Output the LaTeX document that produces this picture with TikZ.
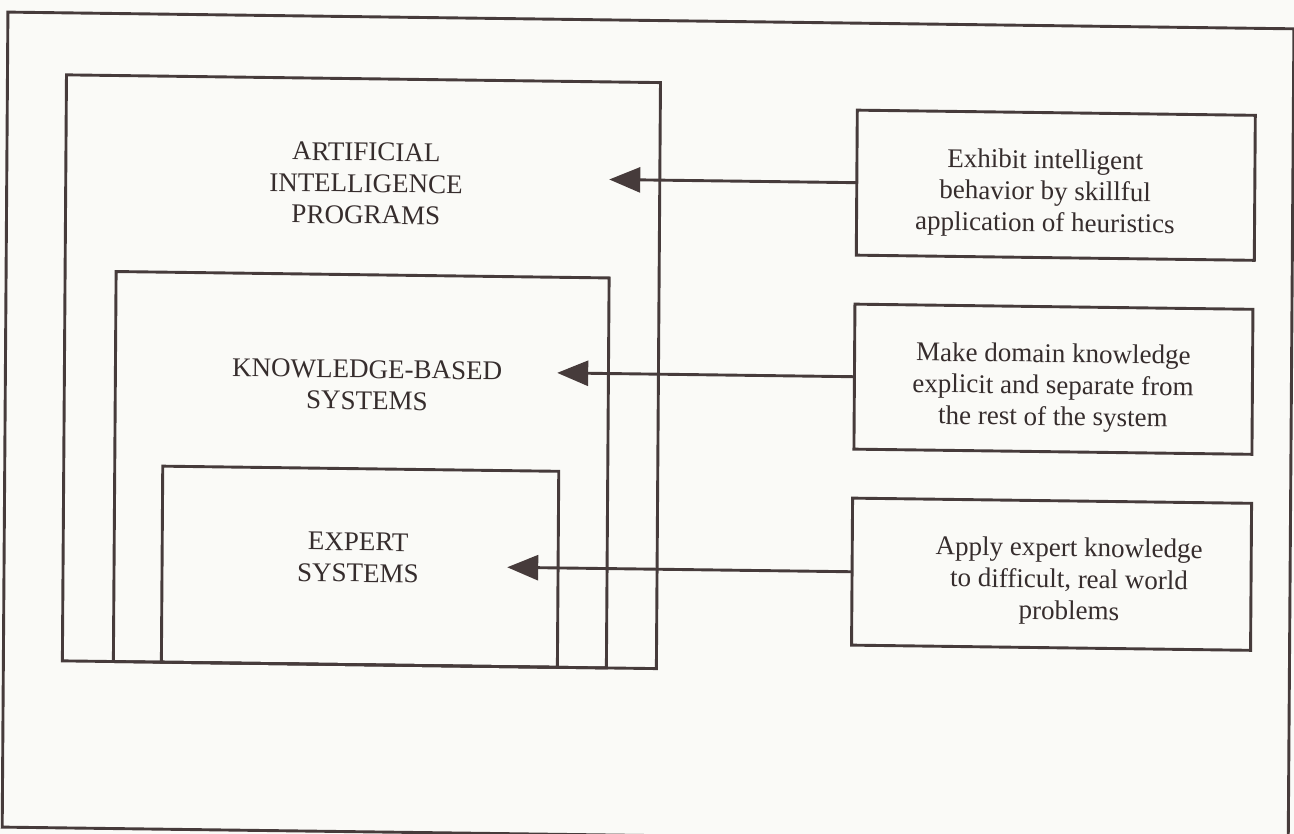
\documentclass[tikz,border=0pt]{standalone}
\usepackage{fontspec}
\setmainfont{Liberation Serif}
\usetikzlibrary{arrows.meta}
\definecolor{paper}{HTML}{FAFAF7}
\definecolor{ink}{HTML}{463B3B}
\definecolor{textink}{HTML}{362D2D}
\begin{document}
\begin{tikzpicture}[x=1pt,y=-1pt,
  frame/.style={draw=ink, line width=2.9pt, rectangle, inner sep=0pt, outer sep=0pt},
  tag/.style={text=textink, align=center, font=\fontsize{27}{31.5}\selectfont, inner sep=0pt},
  pointer/.style={draw=ink, line width=2.9pt, -{Triangle[length=31pt,width=25pt]}}
]
\path[use as bounding box, fill=paper] (0,0) rectangle (1294,834);
\clip (0,0) rectangle (1294,834);
% the whole sheet sits slightly skewed
\begin{scope}[cm={1,-0.013,0.007,1,(0,0)}, transform shape]
  % surrounding frame
  \node[frame, minimum width=1286pt, minimum height=815pt] (page) at (651,419.5) {};

  % nested categories, all sharing the same bottom edge
  \node[frame, minimum width=594pt, minimum height=586pt] (ai) at (364,367) {};
  \node[frame, minimum width=493pt, minimum height=390pt] (kbs) at (364.5,465) {};
  \node[frame, minimum width=396pt, minimum height=196pt] (es) at (364,562) {};

  \node[tag] (ailabel) at (367.3,178.7) {ARTIFICIAL\\INTELLIGENCE\\PROGRAMS};
  \node[tag] (kbslabel) at (369.7,380.2) {KNOWLEDGE-BASED\\SYSTEMS};
  \node[tag] (eslabel) at (361.9,552.9) {EXPERT\\SYSTEMS};

  % characteristics
  \node[frame, minimum width=398pt, minimum height=145pt] (b1) at (1057,171.5) {};
  \node[frame, minimum width=398pt, minimum height=145pt] (b2) at (1056,365.5) {};
  \node[frame, minimum width=399pt, minimum height=147pt] (b3) at (1055.5,560.5) {};

  \node[tag] (t1) at (1046.4,179.9) {Exhibit intelligent\\behavior by skillful\\application of heuristics};
  \node[tag] (t2) at (1055.7,373.8) {Make domain knowledge\\explicit and separate from\\the rest of the system};
  \node[tag] (t3) at (1073,567.6) {Apply expert knowledge\\to difficult, real world\\problems};

  % pointers into the categories
  \coordinate (tip1) at (610.3,171.5);
  \coordinate (tip2) at (559.6,365.5);
  \coordinate (tip3) at (511,560.5);
  \draw[pointer] (b1.west) -- (tip1);
  \draw[pointer] (b2.west) -- (tip2);
  \draw[pointer] (b3.west) -- (tip3);
\end{scope}
\end{tikzpicture}
\end{document}
